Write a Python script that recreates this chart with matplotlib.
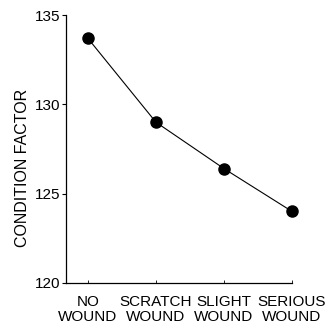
import numpy as np
import matplotlib
matplotlib.use('Agg')
import matplotlib.pyplot as plt

plt.rcParams['font.family'] = ['Liberation Sans', 'DejaVu Sans']

# Kategorien und Werte
categories = ["NO\nWOUND", "SCRATCH\nWOUND", "SLIGHT\nWOUND", "SERIOUS\nWOUND"]
condition = [133.7, 129.0, 126.4, 124.0]
yticks = [120, 125, 130, 135]

fig = plt.figure(figsize=(3.27, 3.27), dpi=100)
ax = fig.add_axes([0.202, 0.135, 0.691, 0.819])

x = np.arange(len(categories))
ax.plot(x, condition, '-', color='black', linewidth=0.8, clip_on=False)
ax.plot(x, condition, 'o', color='black', markersize=8, clip_on=False)

ax.set_xlim(-0.32, 3.0)
ax.set_ylim(120, 135)
ax.set_yticks(yticks)
ax.set_yticklabels([str(v) for v in yticks], fontsize=11)
ax.set_xticks(x)
ax.set_xticklabels(categories, fontsize=11, linespacing=1.1)
ax.tick_params(axis='x', direction='in', length=2, width=0.6, pad=9)
ax.tick_params(axis='y', direction='out', length=3, width=0.8, pad=1)

ax.spines['top'].set_visible(False)
ax.spines['right'].set_visible(False)
ax.spines['left'].set_linewidth(0.9)
ax.spines['bottom'].set_linewidth(0.9)

ax.set_ylabel("CONDITION FACTOR", fontsize=11.5)
ax.yaxis.set_label_coords(-0.16, 0.43)

fig.savefig("out.png", dpi=100)
